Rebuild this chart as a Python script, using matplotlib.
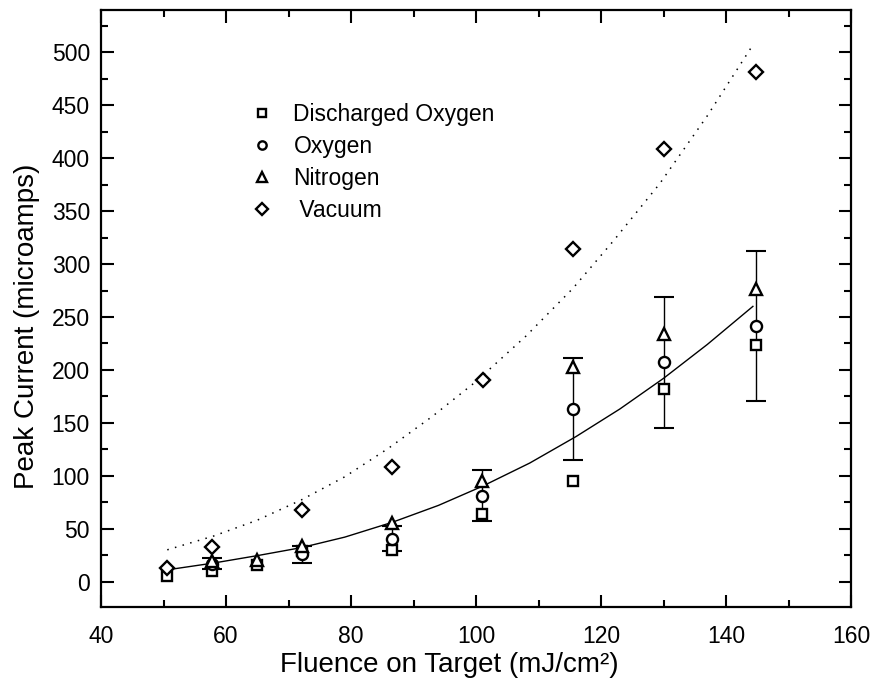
import numpy as np
from matplotlib import pyplot as plt

plt.rcParams["font.family"] = ["Liberation Sans", "DejaVu Sans"]


#  ---------------------------------------  data  ---------------------------------------  #

# fluence (mJ/cm^2) and peak current (microamps) for each gas
x_dox = [50.5, 57.8, 65.0, 72.2, 86.6, 101.0, 115.5, 130.1, 144.8]
y_dox = [5.0, 9.6, 16.0, 29.0, 30.0, 64.0, 95.0, 182.0, 223.5]

x_oxy = [57.8, 72.2, 86.6, 101.0, 115.5, 130.1, 144.8]
y_oxy = [17.0, 26.0, 40.5, 81.0, 163.0, 207.0, 241.5]
e_oxy = [5.5, 8.0, 12.0, 24.0, 48.5, 61.5, 71.0]

x_nit = [57.8, 65.0, 72.2, 86.6, 101.0, 115.5, 130.1, 144.8]
y_nit = [19.0, 20.0, 34.0, 55.6, 95.0, 203.0, 234.0, 276.0]

x_vac = [50.5, 57.8, 72.2, 86.6, 101.1, 115.5, 130.1, 144.8]
y_vac = [13.0, 32.5, 68.0, 108.5, 190.5, 314.0, 409.0, 481.0]

# fitted trend through the gas data (solid) and through vacuum (dotted)
fit_x = [50.5, 58, 65, 72, 79, 86.6, 94, 101, 108.6, 116, 123, 130, 137, 144.3]
fit_y = [11, 17.5, 24.5, 32, 42, 56, 72, 90, 112, 137, 163, 192, 224, 260]

vfit_x = [50.6, 58, 65, 72, 79, 86, 93, 100, 108, 115.5, 122, 129.4, 137, 144.3]
vfit_y = [30, 43, 58, 77, 99, 126, 156, 189, 232, 277, 322, 376, 440, 507]


#  ---------------------------------------  plot  ---------------------------------------  #

fig = plt.figure(figsize=(8.74, 6.86), dpi=100)
ax = fig.add_axes([0.1156, 0.1152, 0.8581, 0.8702])

ax.plot(fit_x, fit_y, '-', c='black', lw=1.0, zorder=2)
ax.plot(vfit_x, vfit_y, c='black', lw=1.1, ls=(0, (1, 4.2)), zorder=2)

mk = dict(ls='none', mfc='white', mec='black', mew=1.7, zorder=4)

ax.plot(x_dox, y_dox, marker='s', ms=7.5, label="Discharged Oxygen", **mk)
ax.errorbar(x_oxy, y_oxy, yerr=e_oxy, fmt='none', ecolor='black', elinewidth=1.0,
            capsize=7.5, capthick=1.5, zorder=3)
ax.plot(x_oxy, y_oxy, marker='o', ms=8, label="Oxygen", **mk)
ax.plot(x_nit, y_nit, marker='^', ms=9, label="Nitrogen", **mk)
ax.plot(x_vac, y_vac, marker='D', ms=7.5, label=" Vacuum", **mk)

ax.set_xlim(40, 160)
ax.set_ylim(-24, 540)
ax.set_xticks(np.arange(40, 161, 20))
ax.set_xticks(np.arange(50, 160, 20), minor=True)
ax.set_yticks(np.arange(0, 501, 50))
ax.set_yticks(np.arange(25, 540, 50), minor=True)

ax.tick_params(which='both', direction='in', top=True, right=True, width=1.5,
               labelsize=16.5)
ax.tick_params(which='major', length=9, pad=8)
ax.tick_params(which='minor', length=5)
ax.tick_params(axis='x', which='major', pad=13)
for s in ax.spines.values():
    s.set_linewidth(1.6)

ax.set_xlabel("Fluence on Target (mJ/cm²)", fontsize=20)
ax.set_ylabel("Peak Current (microamps)", fontsize=20)
ax.xaxis.set_label_coords(0.465, -0.075)
ax.yaxis.set_label_coords(-0.082, 0.47)

ax.legend(loc="upper left", bbox_to_anchor=(0.2, 0.845), frameon=False, fontsize=16.5,
          numpoints=1, markerscale=0.75, handlelength=1.0, handletextpad=0.85,
          labelspacing=0.4, borderpad=0, borderaxespad=0)

plt.savefig("out.png", dpi=100)
